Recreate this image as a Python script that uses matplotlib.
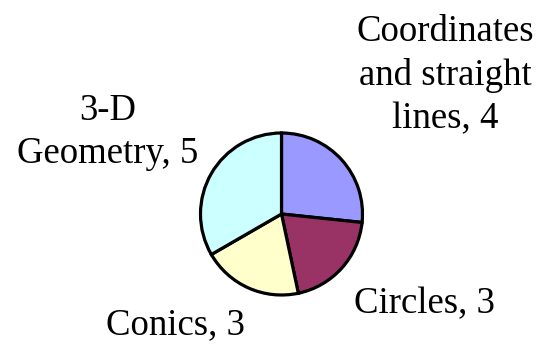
import matplotlib
matplotlib.use("Agg")
import matplotlib.pyplot as plt

# Topic counts
topics = ["Coordinates\nand straight\nlines", "Circles", "Conics", "3-D\nGeometry"]
counts = [4, 3, 3, 5]
colors = ["#9999FF", "#993366", "#FFFFCC", "#CCFFFF"]

W, H = 538, 344
fig = plt.figure(figsize=(W / 100, H / 100), dpi=100)
ax = fig.add_axes([0, 0, 1, 1])

# y axis runs downward, so start at -90 and go "counterclockwise" in data
# coordinates, which reads clockwise from the top on the page
ax.pie(counts, colors=colors, startangle=-90, counterclock=True,
       center=(281.5, 214), radius=81, frame=True,
       wedgeprops=dict(edgecolor="black", linewidth=2.3))
ax.set_xlim(0, W)
ax.set_ylim(H, 0)
ax.set_aspect("equal")
ax.axis("off")

FS = 26.5                      # points
ASC = 0.683 * FS * 100 / 72    # ascender height in pixels
LS = 1.32

# (x centre, baseline of first line) for each label
label_pos = [(445, 40), (424.5, 311.7), (175, 332.7), (108, 119)]
for name, n, (x, y) in zip(topics, counts, label_pos):
    ax.text(x, y - ASC, f"{name}, {n}", ha="center", va="top",
            family="Liberation Serif", fontsize=FS, linespacing=LS)

fig.savefig("out.png", dpi=100)
